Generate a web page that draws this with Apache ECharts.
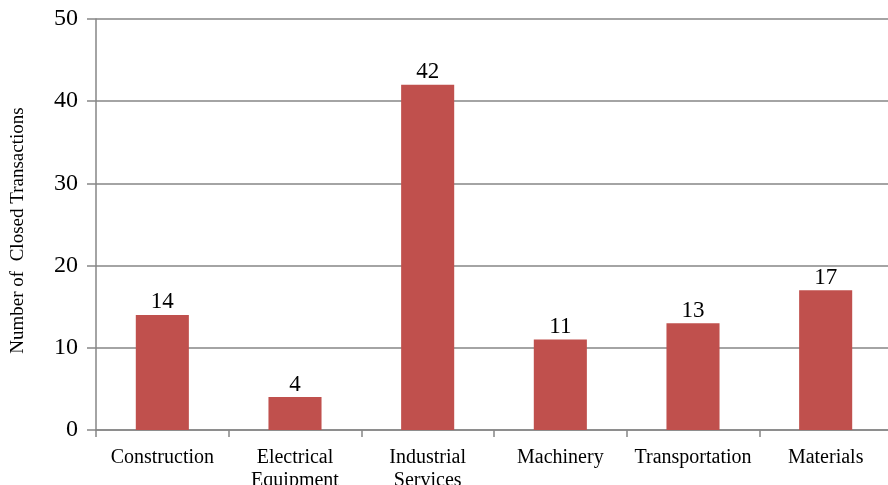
<!DOCTYPE html>
<html>
<head>
<meta charset="utf-8">
<script src="https://cdn.jsdelivr.net/npm/echarts@6/dist/echarts.min.js"></script>
<style>
  html, body { margin: 0; padding: 0; background: #ffffff; }
  #chart { width: 888px; height: 485px; }
</style>
</head>
<body>
<div id="chart"></div>
<script>
// Closed transactions by sector
var categories = ['Construction', 'Electrical\nEquipment', 'Industrial\nServices', 'Machinery', 'Transportation', 'Materials'];
var transactions = [14, 4, 42, 11, 13, 17];
var yTicks = { min: 0, max: 50, interval: 10 };

var FONT = '"Liberation Serif", "DejaVu Serif", serif';
var GRID_GREY = '#868686';

var chart = echarts.init(document.getElementById('chart'), null, { renderer: 'canvas' });
chart.setOption({
  animation: false,
  backgroundColor: '#ffffff',
  grid: {
    left: 96, right: -4, top: 19, bottom: 55,
    containLabel: false,
    outerBoundsMode: 'none'
  },
  xAxis: {
    type: 'category',
    data: categories,
    axisLine: { show: true, lineStyle: { color: GRID_GREY, width: 1.5 } },
    axisTick: { show: true, alignWithLabel: false, length: 7, lineStyle: { color: GRID_GREY, width: 1.5 } },
    axisLabel: { color: '#000000', fontFamily: FONT, fontSize: 20, margin: 16, lineHeight: 23, interval: 0 }
  },
  yAxis: {
    type: 'value',
    min: yTicks.min,
    max: yTicks.max,
    interval: yTicks.interval,
    name: 'Number of  Closed Transactions',
    nameLocation: 'middle',
    nameGap: 68,
    nameTextStyle: { color: '#000000', fontFamily: FONT, fontSize: 19, padding: [0, 12, 0, 0] },
    axisLine: { show: true, lineStyle: { color: GRID_GREY, width: 1.5 } },
    axisTick: { show: true, length: 9, lineStyle: { color: GRID_GREY, width: 1.5 } },
    axisLabel: { color: '#000000', fontFamily: FONT, fontSize: 24, margin: 18 },
    splitLine: { show: true, lineStyle: { color: GRID_GREY, width: 1.5 } }
  },
  series: [{
    type: 'bar',
    data: transactions,
    barWidth: '40%',
    itemStyle: { color: '#c0504d' },
    label: {
      show: true,
      position: 'top',
      distance: 1,
      color: '#000000',
      fontFamily: FONT,
      fontSize: 23
    }
  }]
});
</script>
</body>
</html>
